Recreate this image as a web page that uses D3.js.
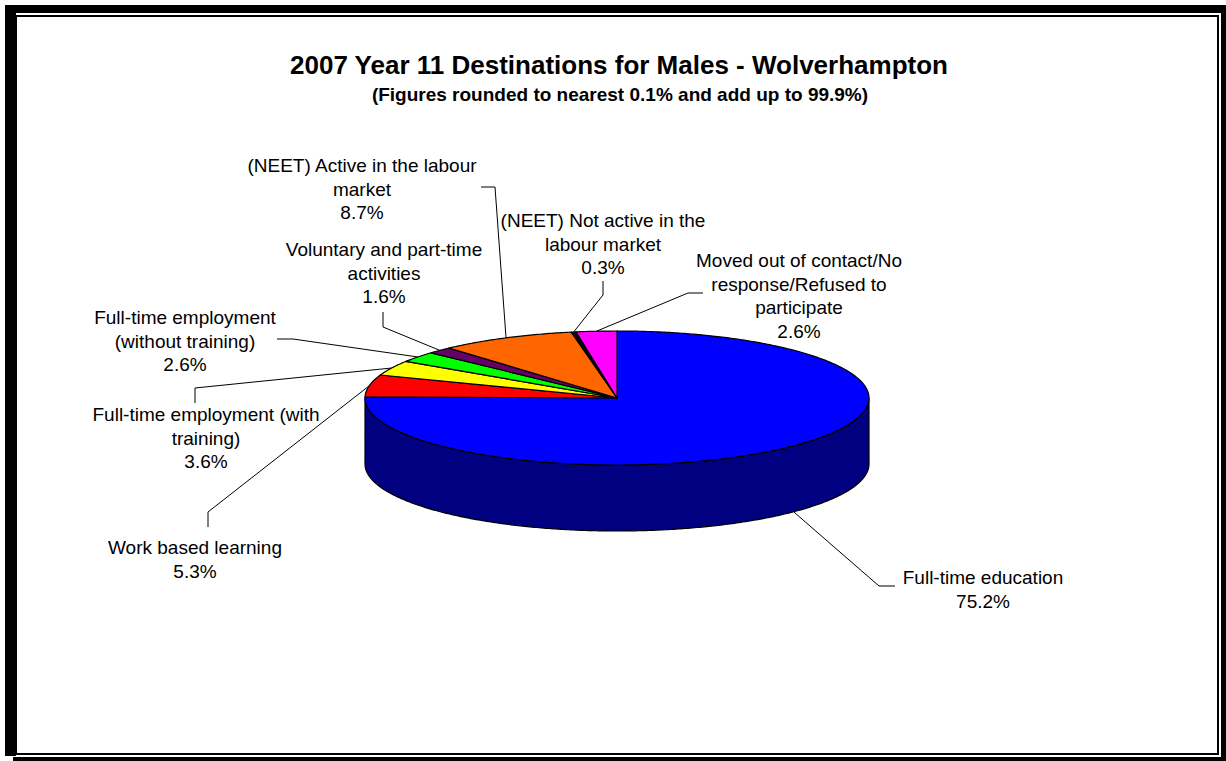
<!DOCTYPE html>
<html>
<head>
<meta charset="utf-8">
<script src="https://cdn.jsdelivr.net/npm/d3@7"></script>
<style>
    body { margin: 0; background: #fff; }
    svg text { font-family: "Liberation Sans", Arial, sans-serif; fill: #000; }
</style>
</head>
<body>
<div id="chartDiv"></div>
<script>
const categories = [
    "Full-time education",
    "Work based learning",
    "Full-time employment (with training)",
    "Full-time employment (without training)",
    "Voluntary and part-time activities",
    "(NEET) Active in the labour market",
    "(NEET) Not active in the labour market",
    "Moved out of contact/No response/Refused to participate"
]
const values = [75.2, 5.3, 3.6, 2.6, 1.6, 8.7, 0.3, 2.6]
const valueLabels = ["75.2%", "5.3%", "3.6%", "2.6%", "1.6%", "8.7%", "0.3%", "2.6%"]
// how the category names wrap on the chart
const labelLines = [
    ["Full-time education"],
    ["Work based learning"],
    ["Full-time employment (with", "training)"],
    ["Full-time employment", "(without training)"],
    ["Voluntary and part-time", "activities"],
    ["(NEET) Active in the labour", "market"],
    ["(NEET) Not active in the", "labour market"],
    ["Moved out of contact/No", "response/Refused to", "participate"]
]
const topColors = ["#0000ff", "#ff0000", "#ffff00", "#00ff00", "#660066", "#ff6600", "#000000", "#ff00ff"]
const sideColors = ["#000080", "#800000", "#808000", "#008000", "#330033", "#803300", "#000000", "#800080"]

// label placement: text centre / first line, then the two leader points near the text
const labelLayout = [
    { x: 983, y: 577, lead: [[895, 586], [879, 586]] },
    { x: 195, y: 547, lead: [[208, 527], [208, 512]] },
    { x: 206, y: 414, lead: [[195, 403], [195, 388]] },
    { x: 185, y: 317, lead: [[277, 339], [293, 339]] },
    { x: 384, y: 249, lead: [[383, 312], [383, 327]] },
    { x: 362, y: 165, lead: [[481, 187], [495, 187]] },
    { x: 603, y: 220, lead: [[603, 281], [603, 295]] },
    { x: 799, y: 260, lead: [[703, 293], [688, 293]] }
]

const width = 1226
const height = 761
const cx = 617, cy = 398, rx = 252, ry = 67, depth = 66
const lineGap = 23.7

const svg = d3.select("#chartDiv").append("svg")
    .attr("width", width)
    .attr("height", height)

// frame
const frame = svg.append("g")
frame.append("rect").attr("x", 5).attr("y", 5).attr("width", 1221).attr("height", 8).attr("fill", "#000")
frame.append("rect").attr("x", 5).attr("y", 5).attr("width", 11).attr("height", 751).attr("fill", "#000")
frame.append("rect").attr("x", 1221).attr("y", 5).attr("width", 5).attr("height", 756).attr("fill", "#000")
frame.append("rect").attr("x", 13).attr("y", 757).attr("width", 1213).attr("height", 4).attr("fill", "#000")
frame.append("rect").attr("x", 16).attr("y", 16).attr("width", 1202).attr("height", 738)
    .attr("fill", "none").attr("stroke", "#000").attr("stroke-width", 2)

// titles
svg.append("text")
    .attr("x", 619).attr("y", 74)
    .attr("text-anchor", "middle")
    .attr("font-size", 26).attr("font-weight", "bold")
    .text("2007 Year 11 Destinations for Males - Wolverhampton")
svg.append("text")
    .attr("x", 620).attr("y", 101)
    .attr("text-anchor", "middle")
    .attr("font-size", 19).attr("font-weight", "bold")
    .text("(Figures rounded to nearest 0.1% and add up to 99.9%)")

// 3d pie
const pie = d3.pie().sort(null).value(d => d)
const arcs = pie(values)

const px = a => cx + rx * Math.sin(a)
const py = a => cy - ry * Math.cos(a)
const arcPoints = (a0, a1, dy) => {
    const n = Math.max(2, Math.ceil(Math.abs(a1 - a0) / 0.01))
    return d3.range(n + 1).map(i => {
        const a = a0 + (a1 - a0) * i / n
        return [px(a), py(a) + dy]
    })
}
const line = d3.line()

const pieG = svg.append("g")

// visible side walls (front half only)
arcs.forEach((d, i) => {
    const s0 = Math.max(d.startAngle, Math.PI / 2)
    const s1 = Math.min(d.endAngle, Math.PI * 3 / 2)
    if (s1 <= s0) return
    const pts = arcPoints(s0, s1, 0).concat(arcPoints(s1, s0, depth))
    pieG.append("path")
        .attr("d", line(pts) + "Z")
        .attr("fill", sideColors[i])
        .attr("stroke", "#000")
        .attr("stroke-width", 1.2)
        .attr("stroke-linejoin", "round")
})

// top faces
pieG.selectAll("path.top").data(arcs).enter().append("path")
    .classed("top", true)
    .attr("d", d => line([[cx, cy]].concat(arcPoints(d.startAngle, d.endAngle, 0))) + "Z")
    .attr("fill", (d, i) => topColors[i])
    .attr("stroke", "#000")
    .attr("stroke-width", 1.2)
    .attr("stroke-linejoin", "round")

// leader lines
const labelG = svg.append("g")
arcs.forEach((d, i) => {
    const mid = (d.startAngle + d.endAngle) / 2
    const front = mid > Math.PI / 2 && mid < Math.PI * 3 / 2
    const end = [px(mid), py(mid) + (front ? depth : 0)]
    labelG.append("path")
        .attr("d", line(labelLayout[i].lead.concat([end])))
        .attr("fill", "none")
        .attr("stroke", "#000")
        .attr("stroke-width", 1)
})

// labels
arcs.forEach((d, i) => {
    const lay = labelLayout[i]
    const rows = labelLines[i].concat([valueLabels[i]])
    const t = labelG.append("text")
        .attr("text-anchor", "middle")
        .attr("font-size", 19)
    rows.forEach((r, k) => {
        t.append("tspan")
            .attr("x", lay.x)
            .attr("y", lay.y + 7 + k * lineGap)
            .text(r)
    })
})
</script>
</body>
</html>
